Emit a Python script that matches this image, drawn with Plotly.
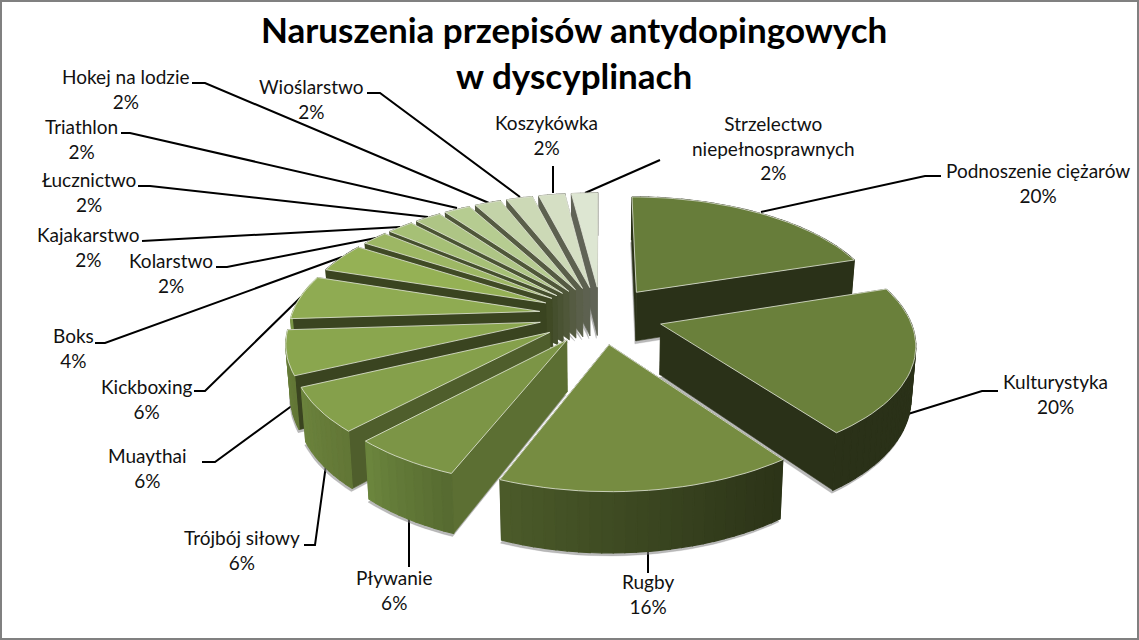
import math
import plotly.graph_objects as go

CATEGORIES = ["Podnoszenie ciężarów", "Kulturystyka", "Rugby", "Pływanie", "Trójbój siłowy",
              "Muaythai", "Kickboxing", "Boks", "Kolarstwo", "Kajakarstwo", "Łucznictwo",
              "Triathlon", "Hokej na lodzie", "Wioślarstwo", "Koszykówka", "Strzelectwo<br>niepełnosprawnych"]
SHARES = [20, 20, 16, 6, 6, 6, 6, 4, 2, 2, 2, 2, 2, 2, 2, 2]

TOP_COLORS = ["#677d3a", "#6a803b", "#768c41", "#7c9546", "#85a04b", "#8aa64e", "#8fab52", "#95b155",
              "#9db764", "#a6c076", "#aec585", "#b6cc91", "#c3d3a8", "#ccd9b6", "#d5dfc4", "#dde6d2"]
WALL_COLORS = ["#2a3118", "#2a3118", "#2e3619", "#5c6f33", "#4f5e2c", "#3a4420", "#3a4420", "#3a4420",
               "#404a25", "#454f2d", "#4a5333", "#4f5739", "#555b42", "#5a5f4a", "#5d6150", "#606356"]
RIM_LEFT = ["#2a3118", "#2a3118", "#4c5c2a", "#6c863e", "#6c843d", "#6c843d", "#7a9646", "#3a4420",
            "#404a25", "#454f2d", "#4a5333", "#4f5739", "#555b42", "#5a5f4a", "#5d6150", "#606356"]
RIM_RIGHT = ["#2a3118", "#2a3118", "#2c3418", "#566a30", "#627636", "#627636", "#7a9646", "#3a4420",
             "#404a25", "#454f2d", "#4a5333", "#4f5739", "#555b42", "#5a5f4a", "#5d6150", "#606356"]

LABEL_CENTERS = [(1038, 183), (1055, 394), (648, 594), (394, 590), (242, 550), (147, 468), (146, 399),
                 (73, 348), (171, 273), (88, 247), (89, 192), (81, 139), (126, 89), (311, 99),
                 (546, 135), (773, 148)]
LEADERS = [[(761, 212), (925, 176), (941, 176)], [(908, 414), (982, 391), (998, 391)],
           [(648, 547), (648, 573)], [(409, 517), (409, 567)], [(326, 465), (315, 545), (304, 545)],
           [(293, 405), (215, 462), (202, 462)], [(301, 297), (205, 391), (194, 391)],
           [(342, 257), (105, 343), (95, 343)], [(376, 238), (227, 267), (216, 267)],
           [(400, 227), (155, 241), (142, 241)], [(428, 217), (150, 186), (138, 186)],
           [(457, 208), (130, 133), (121, 133)], [(489, 203), (205, 83), (192, 83)],
           [(520, 197), (380, 93), (367, 93)], [(553, 193), (553, 166)], [(585, 193), (660, 160)]]

CX, CY, A, B, P, EXPLODE, DEPTH = 601, 315, 248, 115.6, 0.147, 0.25, 50


def hex_mix(c1, c2, t):
    a = [int(c1[i:i + 2], 16) for i in (1, 3, 5)]
    b = [int(c2[i:i + 2], 16) for i in (1, 3, 5)]
    return "#%02x%02x%02x" % tuple(round(x + (y - x) * t) for x, y in zip(a, b))


def project(x, y, low=False):
    w = 1 + P * y
    px, py = CX + A * x / w, CY - B * y / w
    if low:
        px = CX + (px - CX) * 0.985
        py += DEPTH / w
    return px, py


def polygon(points, color, edge=None, width=1.2):
    return go.Scatter(x=[p[0] for p in points] + [points[0][0]], y=[p[1] for p in points] + [points[0][1]],
                      mode="lines", fill="toself", fillcolor=color,
                      line=dict(color=edge or color, width=0.8 if edge else width),
                      hoverinfo="skip", showlegend=False)


traces = []
for pts in LEADERS:
    traces.append(go.Scatter(x=[p[0] for p in pts], y=[p[1] for p in pts], mode="lines",
                             line=dict(color="black", width=2), hoverinfo="skip", showlegend=False))

total = sum(SHARES)
slices = []
start = 0.0
for i, s in enumerate(SHARES):
    end = start + s / total * 2 * math.pi
    slices.append((i, start, end))
    start = end


def build_slice(i, a0, a1):
    mid = (a0 + a1) / 2
    ox, oy = EXPLODE * math.sin(mid), EXPLODE * math.cos(mid)
    n = max(3, round(SHARES[i] * 1.6))
    arc = [(ox + math.sin(a0 + (a1 - a0) * k / n), oy + math.cos(a0 + (a1 - a0) * k / n)) for k in range(n + 1)]
    out = []
    foot = [project(ox, oy, low=True)] + [project(*p, low=True) for p in arc]
    out.append(polygon([(x - 1, y + 3) for x, y in foot], "rgba(130,130,130,0.55)", edge="rgba(130,130,130,0.25)"))
    faces = []
    for (p, q) in (((ox, oy), arc[0]), ((ox, oy), arc[-1])):
        wall = [project(*p), project(*q), project(*q, low=True), project(*p, low=True)]
        faces.append(((p[1] + q[1]) / 2, polygon(wall, WALL_COLORS[i], width=0.6)))
    for k in range(n):
        p, q = arc[k], arc[k + 1]
        pxa = project(*p)[0]
        t = min(1, max(0, (pxa - 500) / 280)) if i == 2 else (k + 0.5) / n
        if i in (3, 4, 5):
            t = 1 - (k + 0.5) / n
        color = hex_mix(RIM_LEFT[i], RIM_RIGHT[i], t)
        seg = [project(*p), project(*q), project(*q, low=True), project(*p, low=True)]
        faces.append(((p[1] + q[1]) / 2, polygon(seg, color)))
    faces.sort(key=lambda f: -f[0])
    out.extend(f[1] for f in faces)
    top = [project(ox, oy)] + [project(*p) for p in arc]
    out.append(polygon(top, TOP_COLORS[i], edge="#e4e8da"))
    return out


for i, a0, a1 in sorted(slices, key=lambda t: -math.cos((t[1] + t[2]) / 2)):
    traces.extend(build_slice(i, a0, a1))

fig = go.Figure(traces)

for name, share, (x, y) in zip(CATEGORIES, SHARES, LABEL_CENTERS):
    fig.add_annotation(x=x, y=y, text=f"{name}<br>{share}%", showarrow=False, xanchor="center", yanchor="middle",
                       font=dict(family="Lato", size=19, color="#111111"), align="center")

fig.add_annotation(x=574, y=52, text="<b>Naruszenia przepisów antydopingowych<br>w dyscyplinach</b>",
                   showarrow=False, xanchor="center", yanchor="middle", align="center",
                   font=dict(family="Lato", size=35, color="black"))

fig.add_shape(type="rect", xref="paper", yref="paper", x0=0, y0=0, x1=1, y1=1,
              line=dict(color="#808080", width=4))

fig.update_layout(
    width=1139, height=640, autosize=False, margin=dict(l=0, r=0, t=0, b=0),
    paper_bgcolor="white", plot_bgcolor="white", showlegend=False,
    xaxis=dict(range=[0, 1139], visible=False, fixedrange=True),
    yaxis=dict(range=[640, 0], visible=False, fixedrange=True),
)

fig.write_html("out.html", config={"displayModeBar": False},
               post_script="document.body.style.margin='0';document.documentElement.style.overflow='hidden';")
